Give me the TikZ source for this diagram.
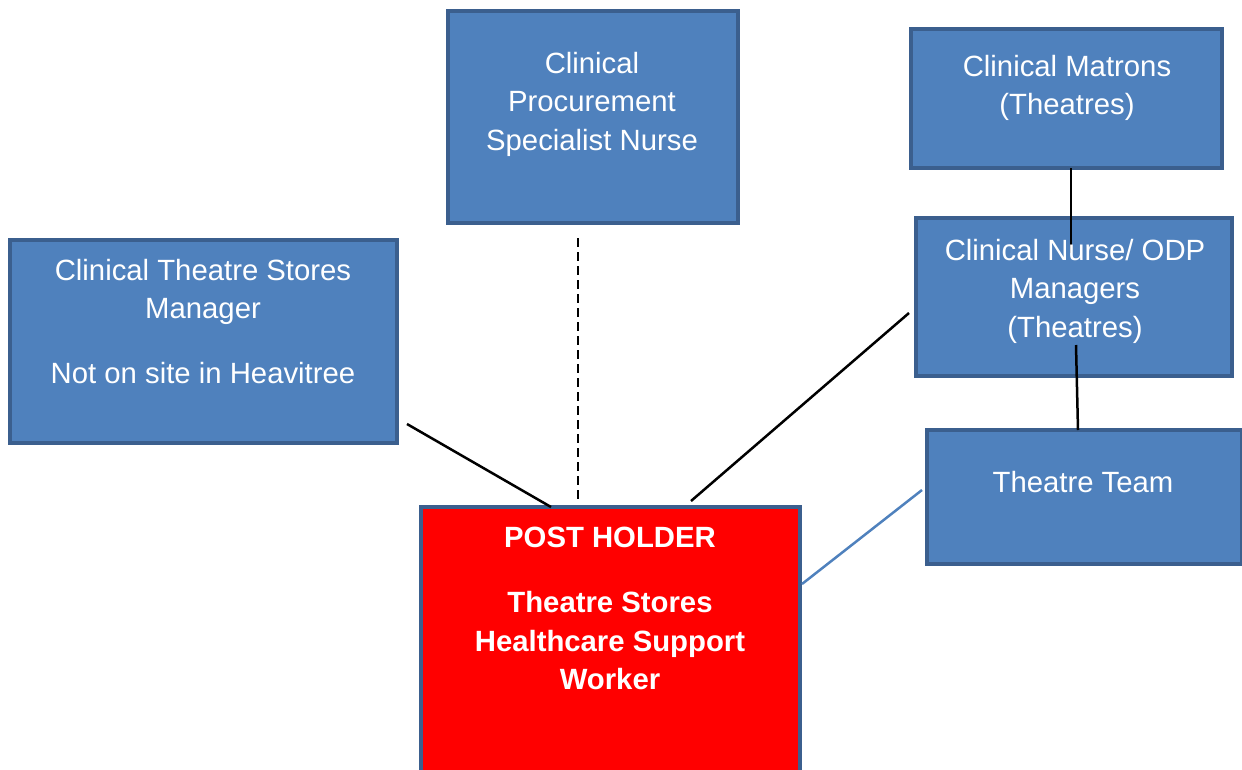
\documentclass[tikz,border=0pt]{standalone}
\usepackage{fontspec}
\setmainfont{Liberation Sans}
\definecolor{boxfill}{HTML}{4F81BD}
\definecolor{boxline}{HTML}{3B5F8E}
\definecolor{phred}{HTML}{FF0000}
\begin{document}
\begin{tikzpicture}[x=1pt,y=-1pt,
  box/.style={draw=boxline, line width=4pt, fill=boxfill, rectangle, inner sep=0pt, outer sep=0pt},
  redbox/.style={box, fill=phred},
  txt/.style={text=white, align=center, inner sep=0pt, anchor=north, font=\fontsize{29.3}{38.5}\selectfont},
  btxt/.style={txt, font=\fontsize{29.3}{38.5}\selectfont\bfseries},
  conn/.style={black, line width=2.5pt},
  bconn/.style={boxfill, line width=2.5pt}]
\useasboundingbox (0,0) rectangle (1242,769);
\begin{scope}
\clip (0,0) rectangle (1242,769);
% boxes
\node[box, minimum width=290, minimum height=212] (cpsn) at (593,117) {};
\node[box, minimum width=311, minimum height=139] (matrons) at (1066.5,98.5) {};
\node[box, minimum width=316, minimum height=158] (cnodp) at (1074,297) {};
\node[box, minimum width=315, minimum height=134] (team) at (1084.5,497) {};
\node[box, minimum width=387, minimum height=203] (ctsm) at (203.5,341.5) {};
\node[redbox, minimum width=379, minimum height=283] (ph) at (610.5,648.5) {};
% connector end points
\coordinate (a1) at (407,424);
\coordinate (a2) at (551,507);
\coordinate (d1) at (578,238);
\coordinate (d2) at (578,500);
\coordinate (b1) at (909,313);
\coordinate (b2) at (691,501);
\coordinate (m2) at (1071,253);
\coordinate (n1) at (1076,345);
\coordinate (t1) at (922,490);
\coordinate (t2) at (802,584);
% connectors
\draw[conn] (a1) -- (a2);
\draw[conn, dash pattern=on 9pt off 5pt] (d1) -- (d2);
\draw[conn] (b1) -- (b2);
\draw[conn] (matrons.south -| m2) -- (m2);
\draw[conn] (n1) -- (team.north -| 1078,0);
\draw[bconn] (t1) -- (t2);
% texts
\node[txt] (cpsnt) at (592,52) {Clinical\\Procurement\\Specialist Nurse};
\node[txt] (matronst) at (1067,55) {Clinical Matrons\\(Theatres)};
\node[txt] (cnodpt) at (1075,239) {Clinical Nurse/ ODP\\Managers\\(Theatres)};
\node[txt] (teamt) at (1083,471) {Theatre Team};
\node[txt] (ctsmt) at (203,259) {Clinical Theatre Stores\\Manager\\[26.5pt]Not on site in Heavitree};
\node[btxt] (pht) at (610,527) {POST HOLDER\\[26.5pt]Theatre Stores\\Healthcare Support\\Worker};
\end{scope}
\end{tikzpicture}
\end{document}
